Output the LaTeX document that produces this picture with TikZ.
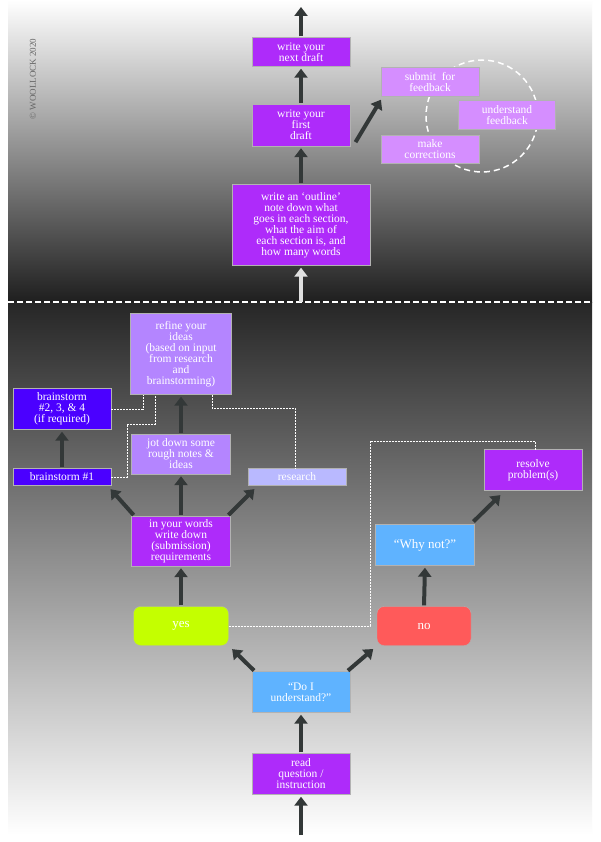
\documentclass[tikz,border=0pt]{standalone}
\usepackage{fontspec}
\setmainfont{Liberation Serif}
\usetikzlibrary{arrows.meta,calc}
\definecolor{pur}{HTML}{AE2BFA}
\definecolor{lpur}{HTML}{B485FF}
\definecolor{vlpur}{HTML}{D58EFF}
\definecolor{lav}{HTML}{B9B9FF}
\definecolor{blu}{HTML}{4B00FF}
\definecolor{sky}{HTML}{5FB3FF}
\definecolor{lime}{HTML}{C4FF00}
\definecolor{red2}{HTML}{FF5A5A}
\definecolor{arr}{HTML}{333838}
\begin{document}
\begin{tikzpicture}[x=1pt,y=-1pt,
 box/.style={draw=white!70!black,line width=0.4pt,text=white,align=center,inner sep=1pt,font=\fontsize{11.5}{11}\selectfont},
 ar/.style={draw=arr,line width=4pt,-{Triangle[length=9pt,width=13pt]},shorten <=1pt,shorten >=2pt},
 dl/.style={draw=white,line width=0.8pt,dash pattern=on 2pt off 1pt}]
\useasboundingbox (0,0) rectangle (600,842);
\fill[white] (0,0) rectangle (600,842);
\shade[top color=white,bottom color=black!88] (8,0) rectangle (592,302);
\shade[top color=black!85,bottom color=white] (8,302) rectangle (592,835);
\draw[white,line width=1.5pt,dash pattern=on 6pt off 3pt] (8,302) -- (592,302);
\node[rotate=90,text=black!60,font=\fontsize{9}{9}\selectfont] (cp) at (33,79) {© WOOLLOCK 2020};
% top part
\node[box,fill=pur,minimum width=98pt,minimum height=29pt] (nd) at (301,52) {write your\\next draft};
\node[box,fill=pur,minimum width=98pt,minimum height=42pt] (fd) at (301,125) {write your\\first\\draft};
\node[box,fill=pur,minimum width=138pt,minimum height=81pt] (ol) at (301,225) {write an ‘outline’\\note down what\\goes in each section,\\what the aim of\\each section is, and\\how many words};
\draw[white,line width=1.5pt,dash pattern=on 6pt off 4pt] (482,116) circle (56);
\node[box,fill=vlpur,minimum width=98pt,minimum height=29pt] (sf) at (430,82) {submit \ for\\feedback};
\node[box,fill=vlpur,minimum width=97pt,minimum height=29pt] (uf) at (507,115) {understand\\feedback};
\node[box,fill=vlpur,minimum width=98pt,minimum height=28pt] (mc) at (430,149) {make\\corrections};
\coordinate (top) at (301,5);
\draw[ar] (nd.north) -- (top);
\draw[ar] (fd.north) -- (nd.south);
\draw[ar] (ol.north) -- (fd.south);
\coordinate (lb) at (301,302);
\draw[line width=4pt,draw=white!88!black,-{Triangle[length=9pt,width=13pt]},shorten >=2pt] (lb) -- (ol.south);
\coordinate (f1) at (355,143);
\coordinate (f2) at (382,98);
\draw[ar] (f1) -- (f2);
% lower part
\node[box,fill=lpur,minimum width=101pt,minimum height=81pt] (rf) at (181,354) {refine your\\ideas\\(based on input\\from research\\and\\brainstorming)};
\node[box,fill=blu,minimum width=98pt,minimum height=41pt] (b2) at (62,409) {brainstorm\\\#2, 3, \& 4\\(if required)};
\node[box,fill=lpur,minimum width=99pt,minimum height=40pt] (jt) at (181,454) {jot down some\\rough notes \&\\ideas};
\node[box,fill=blu,minimum width=98pt,minimum height=17pt] (b1) at (62,477) {brainstorm \#1};
\node[box,fill=lav,minimum width=98pt,minimum height=17pt] (rs) at (297,477) {research};
\node[box,fill=pur,minimum width=99pt,minimum height=50pt] (iw) at (181,541) {in your words\\write down\\(submission)\\requirements};
\node[box,fill=pur,minimum width=98pt,minimum height=41pt] (rp) at (533,470) {resolve\\problem(s)};
\node[box,fill=sky,minimum width=99pt,minimum height=41pt,font=\fontsize{13}{13}\selectfont] (wn) at (425,545) {“Why not?”};
\node[box,fill=lime,rounded corners=7pt,minimum width=95pt,minimum height=39pt,font=\fontsize{13}{13}\selectfont] (ys) at (181,626) {yes};
\node[box,fill=red2,rounded corners=7pt,minimum width=94pt,minimum height=39pt,font=\fontsize{13}{13}\selectfont] (no) at (424,626) {no};
\node[box,fill=sky,minimum width=98pt,minimum height=41pt] (du) at (301,692) {“Do I\\understand?”};
\node[box,fill=pur,minimum width=98pt,minimum height=41pt] (rd) at (301,774) {read\\question /\\instruction};
\coordinate (bot) at (301,836);
% dotted
\draw[dl] (b2.east) -- (143,409) -- (143,395);
\draw[dl] (b1.east) -- (127,477) -- (127,424) -- (155,424) -- (155,395);
\draw[dl] (212,395) -- (212,408) -- (295,408) -- (295,468.5);
\draw[dl] (ys.east) -- (370,626) -- (370,441) -- (535,441) -- (535,449.5);
% arrows
\draw[ar] (bot) -- (rd.south);
\draw[ar] (rd.north) -- (du.south);
\draw[ar] ($(du.north west)+(3,0)$) -- ($(ys.south east)+(2,2)$);
\draw[ar] ($(du.north east)+(-3,0)$) -- ($(no.south west)+(-2,2)$);
\draw[ar] (ys.north) -- (iw.south);
\draw[ar] (no.north) -- (wn.south);
\draw[ar] ($(wn.north east)+(-2,-2)$) -- ($(rp.south west)+(18,3)$);
\draw[ar] ($(iw.north west)+(3,0)$) -- ($(b1.south east)+(-2,2)$);
\draw[ar] (iw.north) -- (jt.south);
\draw[ar] ($(iw.north east)+(-3,0)$) -- ($(rs.south west)+(8,2)$);
\draw[ar] (jt.north) -- (rf.south);
\draw[ar] (b1.north) -- (b2.south);
\end{tikzpicture}
\end{document}
